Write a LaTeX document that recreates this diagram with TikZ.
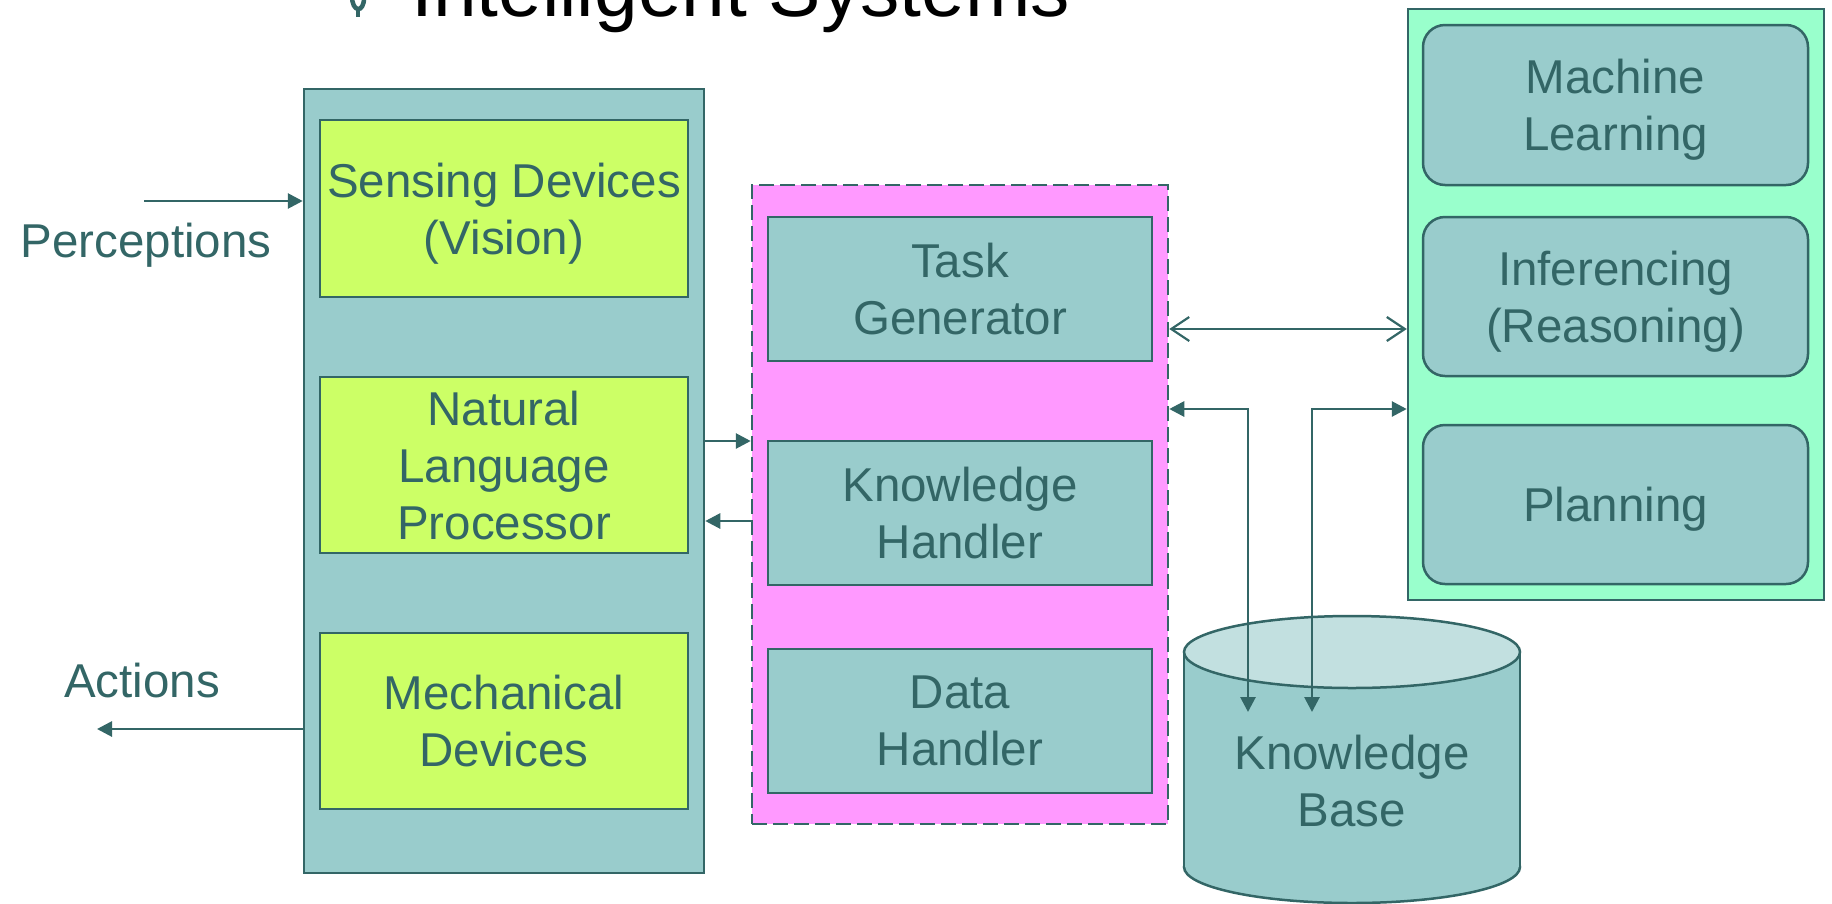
\documentclass[tikz,border=0pt]{standalone}
\usepackage{fontspec}
\setmainfont{Liberation Sans}
\usetikzlibrary{arrows.meta}
\definecolor{ink}{HTML}{336666}
\definecolor{tealfill}{HTML}{99CCCC}
\definecolor{limefill}{HTML}{CCFF66}
\definecolor{pinkfill}{HTML}{FF99FF}
\definecolor{mintfill}{HTML}{99FFCC}
\definecolor{disktop}{HTML}{C2E0E0}
\begin{document}
\begin{tikzpicture}[x=1pt,y=-1pt,
  lbl/.style={text=ink, font=\fontsize{47.5}{57}\selectfont, align=center, inner sep=0pt},
  frame/.style={draw=ink, line width=2.5pt, inner sep=0pt},
  sized/.style 2 args={minimum width=#1, minimum height=#2},
  unitbox/.style={frame, lbl, text depth=0pt},
  roundbox/.style={frame, lbl, text depth=0pt, rounded corners=22pt},
  link/.style={draw=ink, line width=2.8pt, -{Triangle[length=15pt,width=15pt]}},
  twoway/.style={draw=ink, line width=2.8pt, {Triangle[length=15pt,width=15pt]}-{Triangle[length=15pt,width=15pt]}},
  openlink/.style={draw=ink, line width=2.2pt, {Straight Barb[length=18pt,width=24pt,line width=2.2pt]}-{Straight Barb[length=18pt,width=24pt,line width=2.2pt]}}
]
\useasboundingbox (0,0) rectangle (1832,903);
\clip (0,0) rectangle (1832,903);
\fill[white] (0,0) rectangle (1832,903);

% heading with its bullet
\draw[ink, line width=4.5pt, line cap=round] (352,-4) .. controls (352,13) and (364,13) .. (364,-2);
\draw[ink, line width=4.5pt] (358,9) -- (358,17);
\node[anchor=base west, inner sep=0pt, font=\fontsize{78.5}{80}\selectfont] (title) at (411,16) {Intelligent Systems};

% interface panel
\node[frame, fill=tealfill, sized={400pt}{784pt}] (iface) at (504,481) {};
\node[unitbox, fill=limefill, sized={368pt}{177pt}] (sense) at (504,208.5) {Sensing Devices\\(Vision)};
\node[unitbox, fill=limefill, sized={368pt}{176pt}] (nlp) at (504,465) {Natural\\Language\\Processor};
\node[unitbox, fill=limefill, sized={368pt}{176pt}] (mech) at (504,721) {Mechanical\\Devices};

% control panel
\node[frame, dash pattern=on 15pt off 6pt, fill=pinkfill, sized={416pt}{639pt}] (ctrl) at (960,504.5) {};
\node[unitbox, fill=tealfill, sized={384pt}{144pt}] (task) at (960,289) {Task\\Generator};
\node[unitbox, fill=tealfill, sized={384pt}{144pt}] (know) at (960,513) {Knowledge\\Handler};
\node[unitbox, fill=tealfill, sized={384pt}{144pt}] (data) at (960,721) {Data\\Handler};

% reasoning panel
\node[frame, fill=mintfill, sized={416pt}{591pt}] (reason) at (1616,304.5) {};
\node[roundbox, fill=tealfill, sized={385pt}{160pt}] (ml) at (1615.5,105) {Machine\\Learning};
\node[roundbox, fill=tealfill, sized={385pt}{159pt}] (infer) at (1615.5,296.5) {Inferencing\\(Reasoning)};
\node[roundbox, fill=tealfill, sized={385pt}{159pt}] (plan) at (1615.5,504.5) {Planning};

% knowledge base drum
\filldraw[fill=tealfill, draw=ink, line width=2.5pt] (1352,867) ellipse [x radius=168, y radius=36];
\fill[tealfill] (1184,652) rectangle (1520,867);
\draw[ink, line width=2.5pt] (1184,652) -- (1184,867) (1520,652) -- (1520,867);
\filldraw[fill=disktop, draw=ink, line width=2.5pt] (1352,652) ellipse [x radius=168, y radius=36];
\node[lbl] (kb) at (1352,781) {Knowledge\\Base};

% outside labels
\node[lbl, anchor=base] (perc) at (146,257) {Perceptions};
\node[lbl, anchor=base] (act) at (142,697) {Actions};

% connectors
\coordinate (percIn) at (144,201);
\coordinate (actOut) at (97,729);
\coordinate (kbA) at (1248,712);
\coordinate (kbB) at (1312,712);
\draw[link] (percIn) -- (iface.west |- percIn);
\draw[link] (iface.west |- actOut) -- (actOut);
\draw[link] (iface.east |- 0,441) -- (ctrl.west |- 0,441);
\draw[link] (ctrl.west |- 0,521) -- (iface.east |- 0,521);
\draw[openlink] (ctrl.east |- 0,329) -- (reason.west |- 0,329);
\draw[twoway] (ctrl.east |- 0,409) -| (kbA);
\draw[twoway] (reason.west |- 0,409) -| (kbB);
\end{tikzpicture}
\end{document}
